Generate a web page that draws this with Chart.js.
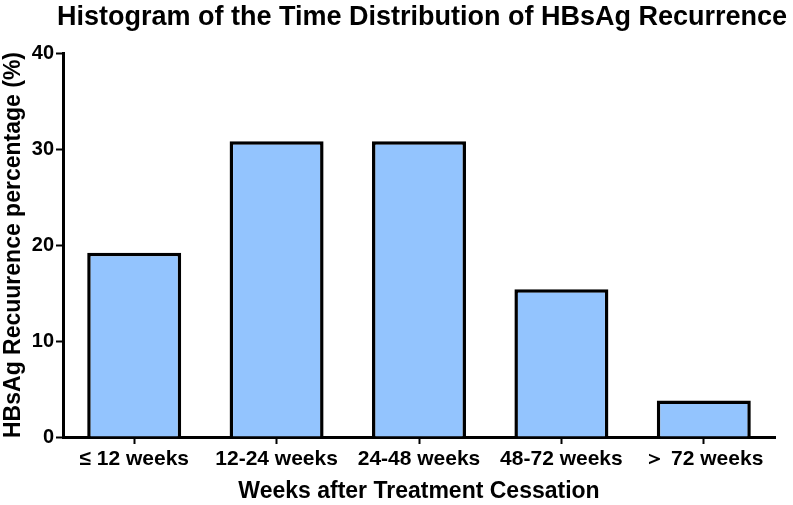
<!DOCTYPE html>
<html lang="en">
<head>
    <meta charset="UTF-8">
    <title>Histogram of the Time Distribution of HBsAg Recurrence</title>
    <script src="https://cdn.jsdelivr.net/npm/chart.js"></script>
    <style>
        html, body { margin: 0; padding: 0; background: #fff; }
        #wrap { width: 793px; height: 505px; }
    </style>
</head>
<body>
    <div id="wrap"><canvas id="histChart"></canvas></div>

    <script>
        // data
        const categories = ['≤ 12 weeks', '12-24 weeks', '24-48 weeks', '48-72 weeks', '＞ 72 weeks'];
        const recurrencePct = [19.2, 30.8, 30.8, 15.4, 3.8];
        const yTicks = [0, 10, 20, 30, 40];
        const chartTitle = 'Histogram of the Time Distribution of HBsAg Recurrence';

        const font = "'Liberation Sans', Arial, sans-serif";

        // title sits a bit right of the canvas centre in the original, so draw it by hand
        const titlePlugin = {
            id: 'offsetTitle',
            afterDraw(chart) {
                const ctx = chart.ctx;
                const area = chart.chartArea;
                ctx.save();
                ctx.font = 'bold 27px ' + font;
                ctx.fillStyle = '#000';
                ctx.textAlign = 'center';
                ctx.textBaseline = 'middle';
                ctx.fillText(chartTitle, (area.left + area.right) / 2 + 3, 18);
                ctx.restore();
            }
        };

        new Chart(document.getElementById('histChart'), {
            type: 'bar',
            data: {
                labels: categories,
                datasets: [{
                    data: recurrencePct,
                    backgroundColor: '#93c4fe',
                    borderColor: '#000000',
                    borderWidth: 3.5,
                    categoryPercentage: 1,
                    barPercentage: 0.66
                }]
            },
            plugins: [titlePlugin],
            options: {
                responsive: true,
                maintainAspectRatio: false,
                animation: false,
                layout: { padding: { left: 0, right: 18, top: 53, bottom: 0 } },
                plugins: {
                    legend: { display: false },
                    tooltip: { enabled: false },
                    title: { display: false }
                },
                scales: {
                    x: {
                        afterFit: s => { s.height = 68; },
                        grid: {
                            offset: false,
                            drawOnChartArea: false,
                            tickLength: 7,
                            tickWidth: 2,
                            tickColor: '#000'
                        },
                        border: { color: '#000', width: 3 },
                        ticks: {
                            color: '#000',
                            padding: 3,
                            maxRotation: 0,
                            font: { family: font, size: 21, weight: 'bold' }
                        },
                        title: {
                            display: true,
                            text: 'Weeks after Treatment Cessation',
                            color: '#000',
                            font: { family: font, size: 23, weight: 'bold' },
                            padding: { top: 2, bottom: 0 }
                        }
                    },
                    y: {
                        min: 0,
                        max: 40,
                        afterFit: s => { s.width = 63; },
                        afterBuildTicks: s => { s.ticks = yTicks.map(v => ({ value: v })); },
                        grid: {
                            drawOnChartArea: false,
                            tickLength: 7,
                            tickWidth: 2,
                            tickColor: '#000'
                        },
                        border: { color: '#000', width: 3 },
                        ticks: {
                            color: '#000',
                            padding: 2,
                            font: { family: font, size: 20, weight: 'bold' }
                        },
                        title: {
                            display: true,
                            text: 'HBsAg Recuurence percentage (%)',
                            color: '#000',
                            font: { family: font, size: 23, weight: 'bold' },
                            padding: { top: 0, bottom: 0 }
                        }
                    }
                }
            }
        });
    </script>
</body>
</html>
